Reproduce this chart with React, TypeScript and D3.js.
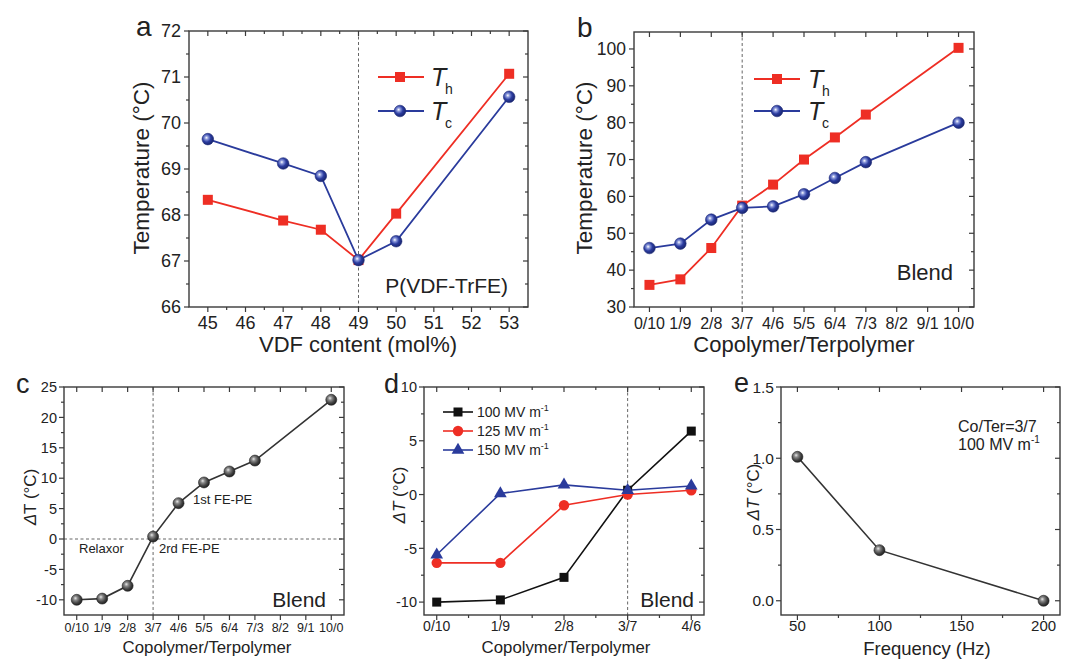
import React from 'react';
import * as d3 from 'd3';

// ---------- DATA ----------
const vdfContent = [45, 47, 48, 49, 50, 53];
const thA = [68.33, 67.88, 67.68, 67.02, 68.03, 71.07];
const tcA = [69.65, 69.12, 68.85, 67.02, 67.43, 70.57];
const aXTicks = [45, 46, 47, 48, 49, 50, 51, 52, 53];
const aYTicks = [66, 67, 68, 69, 70, 71, 72];

const ratios = ['0/10', '1/9', '2/8', '3/7', '4/6', '5/5', '6/4', '7/3', '8/2', '9/1', '10/0'];
const thB: (number | null)[] = [36, 37.5, 46, 57.5, 63.2, 70, 76, 82.2, null, null, 100.3];
const tcB: (number | null)[] = [46, 47.2, 53.7, 56.9, 57.3, 60.6, 65, 69.3, null, null, 80];
const bYTicks = [30, 40, 50, 60, 70, 80, 90, 100];

const dtC: (number | null)[] = [-10, -9.8, -7.7, 0.4, 5.9, 9.3, 11.1, 12.9, null, null, 22.9];
const cYTicks = [-10, -5, 0, 5, 10, 15, 20, 25];

const ratiosD = ['0/10', '1/9', '2/8', '3/7', '4/6'];
const dt100 = [-10, -9.8, -7.7, 0.4, 5.9];
const dt125 = [-6.35, -6.35, -1.0, 0, 0.4];
const dt150 = [-5.6, 0.1, 0.9, 0.4, 0.8];
const dYTicks = [-10, -5, 0, 5, 10];
const dLegend = ['100 MV m', '125 MV m', '150 MV m'];

const freq = [50, 100, 200];
const dtE = [1.01, 0.355, 0.0];
const eXTicks = [50, 100, 150, 200];
const eYTicks = [0, 0.5, 1.0, 1.5];

// ---------- STYLE ----------
const FONT = "'Liberation Sans', Arial, Helvetica, sans-serif";
const AX = '#3a3a3a';
const TXT = '#222';
const RED = '#ee2e24';
const BLUE = '#2a3b9c';

type Lin = d3.ScaleLinear<number, number>;

function mids(a: number[]) {
  const r: number[] = [];
  for (let i = 0; i < a.length - 1; i++) r.push((a[i] + a[i + 1]) / 2);
  return r;
}

function Frame(p: {
  x: Lin; y: Lin;
  xMajor: number[]; xLabels: string[]; xMinor: number[];
  yMajor: number[]; yLabels: string[]; yMinor: number[];
  fs: number; xfs?: number; xLabelDy: number; yLabelDx: number;
}) {
  const [L, R] = p.x.range();
  const [B, T] = p.y.range();
  const M = 5, m = 3;
  const ls = { stroke: AX, strokeWidth: 1.2 };
  const xfs = p.xfs ?? p.fs;
  return (
    <g>
      {p.xMajor.map((v, i) => (
        <g key={'xM' + i}>
          <line x1={p.x(v)} x2={p.x(v)} y1={B} y2={B + M} {...ls} />
          <line x1={p.x(v)} x2={p.x(v)} y1={T} y2={T + M} {...ls} />
          <text x={p.x(v)} y={B + p.xLabelDy} textAnchor="middle" fontSize={xfs} fill={TXT}>{p.xLabels[i]}</text>
        </g>
      ))}
      {p.xMinor.map((v, i) => (
        <g key={'xm' + i}>
          <line x1={p.x(v)} x2={p.x(v)} y1={B} y2={B + m} {...ls} />
          <line x1={p.x(v)} x2={p.x(v)} y1={T} y2={T + m} {...ls} />
        </g>
      ))}
      {p.yMajor.map((v, i) => (
        <g key={'yM' + i}>
          <line x1={L - M} x2={L} y1={p.y(v)} y2={p.y(v)} {...ls} />
          <line x1={R - M} x2={R} y1={p.y(v)} y2={p.y(v)} {...ls} />
          <text x={L - p.yLabelDx} y={p.y(v)} dy="0.36em" textAnchor="end" fontSize={p.fs} fill={TXT}>{p.yLabels[i]}</text>
        </g>
      ))}
      {p.yMinor.map((v, i) => (
        <g key={'ym' + i}>
          <line x1={L - m} x2={L} y1={p.y(v)} y2={p.y(v)} {...ls} />
          <line x1={R - m} x2={R} y1={p.y(v)} y2={p.y(v)} {...ls} />
        </g>
      ))}
      <rect x={L} y={T} width={R - L} height={B - T} fill="none" stroke={AX} strokeWidth={1.4} />
    </g>
  );
}

function pts(xs: number[], ys: (number | null)[]): [number, number][] {
  const r: [number, number][] = [];
  xs.forEach((x, i) => { const v = ys[i]; if (v !== null && v !== undefined) r.push([x, v]); });
  return r;
}

function linePath(x: Lin, y: Lin, data: [number, number][]) {
  return d3.line<[number, number]>().x(d => x(d[0])).y(d => y(d[1]))(data) || '';
}

function Square({ cx, cy, s, fill }: { cx: number; cy: number; s: number; fill: string }) {
  return <rect x={cx - s / 2} y={cy - s / 2} width={s} height={s} fill={fill} />;
}

function BlueBall({ cx, cy, r = 5.8 }: { cx: number; cy: number; r?: number }) {
  return <circle cx={cx} cy={cy} r={r} fill="url(#gBlue)" stroke="#1d2a78" strokeWidth={0.6} />;
}
function GrayBall({ cx, cy, r = 5.5 }: { cx: number; cy: number; r?: number }) {
  return <circle cx={cx} cy={cy} r={r} fill="url(#gGray)" stroke="#222" strokeWidth={0.6} />;
}

export default function App() {
  // Panel a
  const ax = d3.scaleLinear().domain([44.5, 53.5]).range([189, 528]);
  const ay = d3.scaleLinear().domain([66, 72]).range([307, 31]);
  const aTh = pts(vdfContent, thA);
  const aTc = pts(vdfContent, tcA);

  // Panel b
  const idx = ratios.map((_, i) => i);
  const bx = d3.scaleLinear().domain([-0.5, 10.5]).range([634, 974]);
  const by = d3.scaleLinear().domain([30, 104.6]).range([307, 32]);
  const bTh = pts(idx, thB);
  const bTc = pts(idx, tcB);

  // Panel c
  const cx = d3.scaleLinear().domain([-0.5, 10.5]).range([64, 344]);
  const cy = d3.scaleLinear().domain([-12.5, 25]).range([615, 387]);
  const cD = pts(idx, dtC);

  // Panel d
  const idxD = ratiosD.map((_, i) => i);
  const dx = d3.scaleLinear().domain([-0.2, 4.2]).range([424, 704]);
  const dy = d3.scaleLinear().domain([-11.2, 10]).range([615, 387]);
  const d100 = pts(idxD, dt100);
  const d125 = pts(idxD, dt125);
  const d150 = pts(idxD, dt150);
  const tri = d3.symbol().type(d3.symbolTriangle).size(70)() || '';

  // Panel e
  const ex = d3.scaleLinear().domain([40, 210]).range([781, 1060]);
  const ey = d3.scaleLinear().domain([-0.1, 1.5]).range([615, 387]);
  const eD = pts(freq, dtE);

  const dash = { stroke: '#666', strokeWidth: 1, strokeDasharray: '3,2.5' };

  return (
    <svg width={1080} height={665} style={{ position: 'absolute', left: 0, top: 0, background: '#fff' }} fontFamily={FONT}>
      <defs>
        <radialGradient id="gBlue" cx="0.4" cy="0.4" r="0.6" fx="0.38" fy="0.38">
          <stop offset="0" stopColor="#ffffff" />
          <stop offset="0.25" stopColor="#8a98da" />
          <stop offset="0.6" stopColor="#2b3ca0" />
          <stop offset="1" stopColor="#1a2670" />
        </radialGradient>
        <radialGradient id="gGray" cx="0.4" cy="0.4" r="0.6" fx="0.38" fy="0.35">
          <stop offset="0" stopColor="#e8e8e8" />
          <stop offset="0.3" stopColor="#8a8a8a" />
          <stop offset="0.7" stopColor="#444" />
          <stop offset="1" stopColor="#222" />
        </radialGradient>
      </defs>

      {/* ---------------- Panel a ---------------- */}
      <text x={136} y={36} fontSize={28} fill={TXT}>a</text>
      <line x1={ax(49)} x2={ax(49)} y1={31} y2={307} {...dash} />
      <Frame x={ax} y={ay}
        xMajor={aXTicks} xLabels={aXTicks.map(String)} xMinor={mids(aXTicks)}
        yMajor={aYTicks} yLabels={aYTicks.map(String)} yMinor={mids(aYTicks)}
        fs={18} xLabelDy={22} yLabelDx={8} />
      <path d={linePath(ax, ay, aTh)} fill="none" stroke={RED} strokeWidth={1.8} />
      <path d={linePath(ax, ay, aTc)} fill="none" stroke={BLUE} strokeWidth={1.8} />
      {aTh.map((d, i) => <Square key={'ath' + i} cx={ax(d[0])} cy={ay(d[1])} s={10} fill={RED} />)}
      {aTc.map((d, i) => <BlueBall key={'atc' + i} cx={ax(d[0])} cy={ay(d[1])} />)}
      <text transform="translate(149,168) rotate(-90)" textAnchor="middle" fontSize={22.5} fill={TXT}>Temperature (°C)</text>
      <text x={358} y={352} textAnchor="middle" fontSize={22} fill={TXT}>VDF content (mol%)</text>
      <text x={508} y={293} textAnchor="end" fontSize={21} fill={TXT}>P(VDF-TrFE)</text>
      {/* legend a */}
      <line x1={378} x2={424} y1={77} y2={77} stroke={RED} strokeWidth={1.8} />
      <Square cx={400} cy={77} s={10} fill={RED} />
      <line x1={378} x2={424} y1={111} y2={111} stroke={BLUE} strokeWidth={1.8} />
      <BlueBall cx={400} cy={111} />
      <text x={431} y={86} fontSize={25} fontStyle="italic" fill={TXT}>T</text>
      <text x={445} y={94} fontSize={14} fill={TXT}>h</text>
      <text x={431} y={120} fontSize={25} fontStyle="italic" fill={TXT}>T</text>
      <text x={445} y={128} fontSize={14} fill={TXT}>c</text>

      {/* ---------------- Panel b ---------------- */}
      <text x={577} y={37} fontSize={28} fill={TXT}>b</text>
      <line x1={bx(3)} x2={bx(3)} y1={32} y2={307} {...dash} />
      <Frame x={bx} y={by}
        xMajor={idx} xLabels={ratios} xMinor={[]}
        yMajor={bYTicks} yLabels={bYTicks.map(String)} yMinor={mids(bYTicks)}
        fs={17.5} xfs={16} xLabelDy={22} yLabelDx={8} />
      <path d={linePath(bx, by, bTh)} fill="none" stroke={RED} strokeWidth={1.8} />
      <path d={linePath(bx, by, bTc)} fill="none" stroke={BLUE} strokeWidth={1.8} />
      {bTh.map((d, i) => <Square key={'bth' + i} cx={bx(d[0])} cy={by(d[1])} s={10} fill={RED} />)}
      {bTc.map((d, i) => <BlueBall key={'btc' + i} cx={bx(d[0])} cy={by(d[1])} />)}
      <text transform="translate(592,168) rotate(-90)" textAnchor="middle" fontSize={22.5} fill={TXT}>Temperature (°C)</text>
      <text x={804} y={352} textAnchor="middle" fontSize={22} fill={TXT}>Copolymer/Terpolymer</text>
      <text x={953} y={280} textAnchor="end" fontSize={22} fill={TXT}>Blend</text>
      {/* legend b */}
      <line x1={754} x2={800} y1={79} y2={79} stroke={RED} strokeWidth={1.8} />
      <Square cx={777} cy={79} s={10} fill={RED} />
      <line x1={754} x2={800} y1={111} y2={111} stroke={BLUE} strokeWidth={1.8} />
      <BlueBall cx={777} cy={111} />
      <text x={808} y={88} fontSize={25} fontStyle="italic" fill={TXT}>T</text>
      <text x={822} y={96} fontSize={14} fill={TXT}>h</text>
      <text x={808} y={120} fontSize={25} fontStyle="italic" fill={TXT}>T</text>
      <text x={822} y={128} fontSize={14} fill={TXT}>c</text>

      {/* ---------------- Panel c ---------------- */}
      <text x={16} y={393} fontSize={27} fill={TXT}>c</text>
      <line x1={cx(3)} x2={cx(3)} y1={387} y2={615} {...dash} />
      <line x1={64} x2={344} y1={cy(0)} y2={cy(0)} {...dash} />
      <Frame x={cx} y={cy}
        xMajor={idx} xLabels={ratios} xMinor={[]}
        yMajor={cYTicks} yLabels={cYTicks.map(String)} yMinor={mids(cYTicks)}
        fs={14.5} xfs={12.5} xLabelDy={17} yLabelDx={7} />
      <path d={linePath(cx, cy, cD)} fill="none" stroke="#333" strokeWidth={1.6} />
      {cD.map((d, i) => <GrayBall key={'c' + i} cx={cx(d[0])} cy={cy(d[1])} />)}
      <text transform="translate(36,497) rotate(-90)" textAnchor="middle" fontSize={17} fill={TXT}><tspan fontStyle="italic">Δ</tspan>T (°C)</text>
      <text x={207} y={653} textAnchor="middle" fontSize={16.8} fill={TXT}>Copolymer/Terpolymer</text>
      <text x={326} y={607} textAnchor="end" fontSize={21} fill={TXT}>Blend</text>
      <text x={79} y={553} fontSize={13} fill={TXT}>Relaxor</text>
      <text x={159} y={553} fontSize={13} fill={TXT}>2rd FE-PE</text>
      <text x={193} y={504} fontSize={13} fill={TXT}>1st FE-PE</text>

      {/* ---------------- Panel d ---------------- */}
      <text x={384} y={393} fontSize={27} fill={TXT}>d</text>
      <line x1={dx(3)} x2={dx(3)} y1={387} y2={615} {...dash} />
      <Frame x={dx} y={dy}
        xMajor={idxD} xLabels={ratiosD} xMinor={mids(idxD)}
        yMajor={dYTicks} yLabels={dYTicks.map(String)} yMinor={mids(dYTicks)}
        fs={14.5} xfs={14} xLabelDy={16} yLabelDx={7} />
      <path d={linePath(dx, dy, d100)} fill="none" stroke="#111" strokeWidth={1.6} />
      <path d={linePath(dx, dy, d125)} fill="none" stroke={RED} strokeWidth={1.6} />
      <path d={linePath(dx, dy, d150)} fill="none" stroke={BLUE} strokeWidth={1.6} />
      {d100.map((d, i) => <Square key={'d1' + i} cx={dx(d[0])} cy={dy(d[1])} s={9} fill="#111" />)}
      {d125.map((d, i) => <circle key={'d2' + i} cx={dx(d[0])} cy={dy(d[1])} r={5.2} fill={RED} />)}
      {d150.map((d, i) => <path key={'d3' + i} d={tri} transform={`translate(${dx(d[0])},${dy(d[1])})`} fill={BLUE} />)}
      <text transform="translate(405,495) rotate(-90)" textAnchor="middle" fontSize={17} fill={TXT}><tspan fontStyle="italic">ΔT</tspan> (°C)</text>
      <text x={566} y={653} textAnchor="middle" fontSize={16.8} fill={TXT}>Copolymer/Terpolymer</text>
      <text x={694} y={607} textAnchor="end" fontSize={21} fill={TXT}>Blend</text>
      {/* legend d */}
      {dLegend.map((t, i) => {
        const ly = 412 + i * 19;
        const col = i === 0 ? '#111' : i === 1 ? RED : BLUE;
        return (
          <g key={'dl' + i}>
            <line x1={443} x2={473} y1={ly} y2={ly} stroke={col} strokeWidth={1.6} />
            {i === 0 && <Square cx={458} cy={ly} s={9} fill={col} />}
            {i === 1 && <circle cx={458} cy={ly} r={5.2} fill={col} />}
            {i === 2 && <path d={tri} transform={`translate(458,${ly})`} fill={col} />}
            <text x={477} y={ly + 5} fontSize={14} fill={TXT}>{t}<tspan fontSize={9} dy={-6}>-1</tspan></text>
          </g>
        );
      })}

      {/* ---------------- Panel e ---------------- */}
      <text x={734} y={392} fontSize={27} fill={TXT}>e</text>
      <Frame x={ex} y={ey}
        xMajor={eXTicks} xLabels={eXTicks.map(String)} xMinor={mids(eXTicks)}
        yMajor={eYTicks} yLabels={eYTicks.map(v => v.toFixed(1))} yMinor={mids(eYTicks)}
        fs={15.5} xfs={15} xLabelDy={16} yLabelDx={7} />
      <path d={linePath(ex, ey, eD)} fill="none" stroke="#333" strokeWidth={1.6} />
      {eD.map((d, i) => <GrayBall key={'e' + i} cx={ex(d[0])} cy={ey(d[1])} />)}
      <text transform="translate(759,492) rotate(-90)" textAnchor="middle" fontSize={17} fill={TXT}><tspan fontStyle="italic">ΔT</tspan> (°C)</text>
      <text x={927} y={655} textAnchor="middle" fontSize={18.5} fill={TXT}>Frequency (Hz)</text>
      <text x={958} y={432} fontSize={16} fill={TXT}>Co/Ter=3/7</text>
      <text x={958} y={450} fontSize={16} fill={TXT}>100 MV m<tspan fontSize={10} dy={-7}>-1</tspan></text>
    </svg>
  );
}
